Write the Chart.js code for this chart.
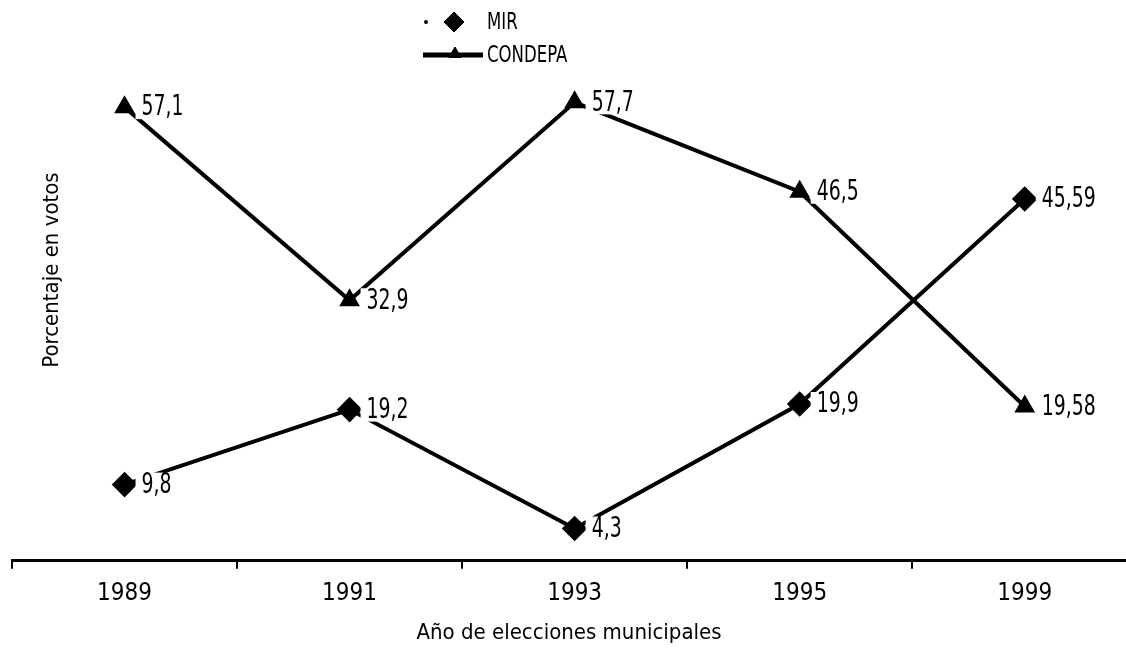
<!DOCTYPE html>
<html>
<head>
<meta charset="utf-8">
<script src="https://cdn.jsdelivr.net/npm/chart.js@4/dist/chart.umd.min.js"></script>
<style>
  html, body { margin: 0; padding: 0; background: #fff; overflow: hidden; }
  #wrap { width: 1126px; height: 650px; }
  canvas { display: block; }
</style>
</head>
<body>
<div id="wrap"><canvas id="chart"></canvas></div>
<script>
const years = ['1989', '1991', '1993', '1995', '1999']
const mirVotes = [9.8, 19.2, 4.3, 19.9, 45.59]
const condepaVotes = [57.1, 32.9, 57.7, 46.5, 19.58]

const fontFamily = "'DejaVu Sans Condensed', 'Liberation Sans Narrow', sans-serif"
Chart.defaults.font.family = fontFamily
Chart.defaults.color = '#000'

// ticks at the category centres (labels) and at the boundaries (tick marks)
let tickValues = []
years.forEach((y, i) => { tickValues.push(i - 0.5); tickValues.push(i) })

function fmt(v) {
  return String(v).replace('.', ',')
}

// narrow text: the scan uses a condensed face, so squeeze it a bit
function narrowText(ctx, text, x, y, size, squeeze) {
  ctx.save()
  ctx.font = size + 'px ' + fontFamily
  ctx.translate(x, y)
  ctx.scale(squeeze, 1)
  ctx.fillText(text, 0, 0)
  ctx.restore()
}

// value labels to the right of every point, on a white box (like the original)
const pointLabels = {
  id: 'pointLabels',
  afterDatasetsDraw(chart) {
    const { ctx } = chart
    const squeeze = 0.75
    ctx.save()
    ctx.font = '28px ' + fontFamily
    ctx.textAlign = 'left'
    ctx.textBaseline = 'middle'
    chart.data.datasets.forEach((ds, di) => {
      chart.getDatasetMeta(di).data.forEach((pt, i) => {
        let text = fmt(ds.data[i].y)
        let w = ctx.measureText(text).width * squeeze
        ctx.fillStyle = '#fff'
        ctx.fillRect(pt.x + 11, pt.y - 12, w + 10, 24)
        ctx.fillStyle = '#000'
        narrowText(ctx, text, pt.x + 17, pt.y + 1, 28, squeeze)
      })
    })
    ctx.restore()
  }
}

// stacked legend at the top and the y title inside the plot
const extras = {
  id: 'extras',
  afterDraw(chart) {
    const { ctx, chartArea } = chart
    ctx.save()
    ctx.fillStyle = '#000'
    ctx.strokeStyle = '#000'
    ctx.textBaseline = 'middle'
    ctx.textAlign = 'left'

    // MIR
    ctx.beginPath()
    ctx.arc(426, 22, 2, 0, Math.PI * 2)
    ctx.fill()
    Chart.helpers.drawPoint(ctx, { pointStyle: 'rectRot', radius: 10, borderWidth: 1 }, 454, 22)
    ctx.fill()
    narrowText(ctx, 'MIR', 487, 23, 23, 0.8)

    // CONDEPA
    ctx.lineWidth = 5
    ctx.beginPath()
    ctx.moveTo(423, 55)
    ctx.lineTo(483, 55)
    ctx.stroke()
    ctx.lineWidth = 1
    Chart.helpers.drawPoint(ctx, { pointStyle: 'triangle', radius: 7, borderWidth: 1 }, 455, 54)
    ctx.fill()
    narrowText(ctx, 'CONDEPA', 487, 56, 23, 0.8)

    // y title
    ctx.font = '22px ' + fontFamily
    ctx.translate(chartArea.left + 40, 270)
    ctx.rotate(-Math.PI / 2)
    ctx.textAlign = 'center'
    ctx.fillText('Porcentaje en votos', 0, 0)
    ctx.restore()
  }
}

const toPoints = arr => arr.map((v, i) => ({ x: i, y: v }))

new Chart(document.getElementById('chart'), {
  type: 'line',
  data: {
    datasets: [{
      label: 'MIR',
      data: toPoints(mirVotes),
      borderColor: '#000',
      backgroundColor: '#000',
      borderWidth: 4,
      pointStyle: 'rectRot',
      pointRadius: 10,
      tension: 0
    }, {
      label: 'CONDEPA',
      data: toPoints(condepaVotes),
      borderColor: '#000',
      backgroundColor: '#000',
      borderWidth: 4,
      pointStyle: 'triangle',
      pointRadius: 8,
      tension: 0
    }]
  },
  plugins: [pointLabels, extras],
  options: {
    responsive: true,
    maintainAspectRatio: false,
    animation: false,
    layout: { autoPadding: false, padding: { top: 84, left: 12, right: 0, bottom: 4 } },
    plugins: {
      legend: { display: false },
      tooltip: { enabled: false }
    },
    scales: {
      x: {
        type: 'linear',
        min: -0.5,
        max: 4.45,
        afterBuildTicks: scale => {
          scale.ticks = tickValues.map(v => ({ value: v }))
        },
        // the axis runs right up to the edge of the picture
        afterFit: scale => {
          scale.paddingLeft = 0
          scale.paddingRight = 0
        },
        grid: {
          drawOnChartArea: false,
          drawTicks: true,
          tickLength: 8,
          lineWidth: 2,
          color: ctx => (ctx.tick && Number.isInteger(ctx.tick.value)) ? 'rgba(0,0,0,0)' : '#000'
        },
        border: { display: true, color: '#000', width: 3 },
        ticks: {
          autoSkip: false,
          maxRotation: 0,
          padding: 11,
          font: { size: 24 },
          color: '#000',
          callback: value => Number.isInteger(value) ? years[value] : ''
        },
        title: {
          display: true,
          text: 'Año de elecciones municipales',
          font: { size: 22 },
          color: '#000',
          padding: { top: 0, bottom: 0 }
        }
      },
      y: {
        display: false,
        min: 0.25,
        max: 60
      }
    }
  }
})
</script>
</body>
</html>
